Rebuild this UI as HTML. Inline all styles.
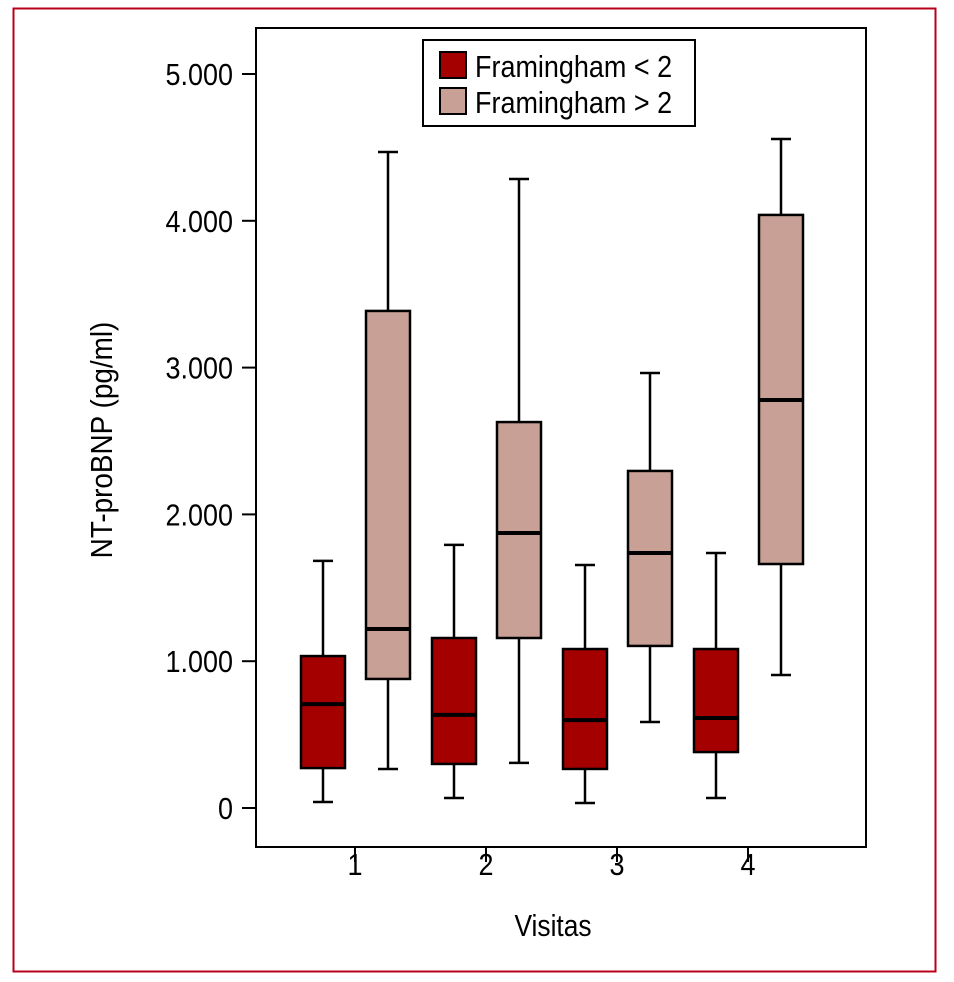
<!DOCTYPE html>
<html><head><meta charset="utf-8"><style>
html,body{margin:0;padding:0;background:#fff;}
svg{display:block;font-family:"Liberation Sans",sans-serif;}
</style></head><body>
<svg id="chart" width="954" height="982" viewBox="0 0 954 982">
<rect x="13.5" y="8.5" width="922" height="963" fill="none" stroke="#b8001e" stroke-width="2"/>
<rect x="256" y="28" width="610" height="819" fill="none" stroke="#000" stroke-width="2"/>
<g id="yaxis"></g>
<g id="xaxis"></g>
<g id="boxes"></g>
<text x="0" y="0" transform="translate(112,440) rotate(-90) scale(0.9,1)" text-anchor="middle" font-size="31">NT-proBNP (pg/ml)</text>
<text x="0" y="0" transform="translate(553,936) scale(0.85,1)" text-anchor="middle" font-size="31">Visitas</text>
<g>
<rect x="423" y="40" width="272" height="86" fill="#fff" stroke="#000" stroke-width="2"/>
<g>
<rect x="440" y="52" width="26" height="26" fill="#a50000" stroke="#000" stroke-width="2"/>
<text transform="translate(475,77) scale(0.87,1)" font-size="31">Framingham &lt; 2</text></g>
<g>
<rect x="440" y="88" width="26" height="26" fill="#c9a096" stroke="#000" stroke-width="2"/>
<text transform="translate(475,113) scale(0.87,1)" font-size="31">Framingham &gt; 2</text></g>
</g>
</svg>
<script>
const categories=["1","2","3","4"];
const yTicks=[0,1000,2000,3000,4000,5000];
const yTickLabels=["0","1.000","2.000","3.000","4.000","5.000"];
const lowMin=[41,68,34,68];
const lowQ1=[272,300,266,381];
const lowMed=[708,634,599,613];
const lowQ3=[1035,1158,1083,1083];
const lowMax=[1683,1792,1655,1737];
const highMin=[266,307,586,906];
const highQ1=[879,1158,1104,1662];
const highMed=[1219,1873,1737,2779];
const highQ3=[3386,2629,2296,4040];
const highMax=[4469,4285,2963,4557];

const NS="http://www.w3.org/2000/svg";
function y(v){return 808-v*0.1468;}
function x(i){return 355+i*131;}
function mk(tag,attrs,parent){const e=document.createElementNS(NS,tag);for(const k in attrs)e.setAttribute(k,attrs[k]);parent.appendChild(e);return e;}
const ya=document.getElementById('yaxis'),xa=document.getElementById('xaxis'),bx=document.getElementById('boxes');
yTicks.forEach((v,i)=>{
  const t=mk('line',{x1:242,x2:256,y1:y(v),y2:y(v),stroke:'#000','stroke-width':2},ya);
  
  
  const l=mk('text',{transform:`translate(233,${y(v)+11}) scale(0.87,1)`,'text-anchor':'end','font-size':31},ya);
  l.textContent=yTickLabels[i];
  
  
});
categories.forEach((c,i)=>{
  const t=mk('line',{x1:x(i),x2:x(i),y1:847,y2:862,stroke:'#000','stroke-width':2},xa);
  
  
  const l=mk('text',{transform:`translate(${x(i)},875) scale(0.87,1)`,'text-anchor':'middle','font-size':31},xa);
  l.textContent=c;
  
  
});
function box(cx,mn,q1,md,q3,mx,fill,name){
  const g=mk('g',{},bx);
  
  
  const w=44,cap=10,s={stroke:'#000','stroke-width':2.5};
  mk('line',Object.assign({x1:cx,x2:cx,y1:y(mx),y2:y(q3)},s),g);
  mk('line',Object.assign({x1:cx,x2:cx,y1:y(q1),y2:y(mn)},s),g);
  mk('line',Object.assign({x1:cx-cap,x2:cx+cap,y1:y(mx),y2:y(mx)},s),g);
  mk('line',Object.assign({x1:cx-cap,x2:cx+cap,y1:y(mn),y2:y(mn)},s),g);
  mk('rect',Object.assign({x:cx-w/2,y:y(q3),width:w,height:y(q1)-y(q3),fill:fill},s),g);
  mk('line',{x1:cx-w/2,x2:cx+w/2,y1:y(md),y2:y(md),stroke:'#000','stroke-width':4},g);
}
categories.forEach((c,i)=>{
  box(x(i)-32,lowMin[i],lowQ1[i],lowMed[i],lowQ3[i],lowMax[i],'#a50000','box-low-'+c);
  box(x(i)+33,highMin[i],highQ1[i],highMed[i],highQ3[i],highMax[i],'#c9a096','box-high-'+c);
});
</script>
</body></html>
